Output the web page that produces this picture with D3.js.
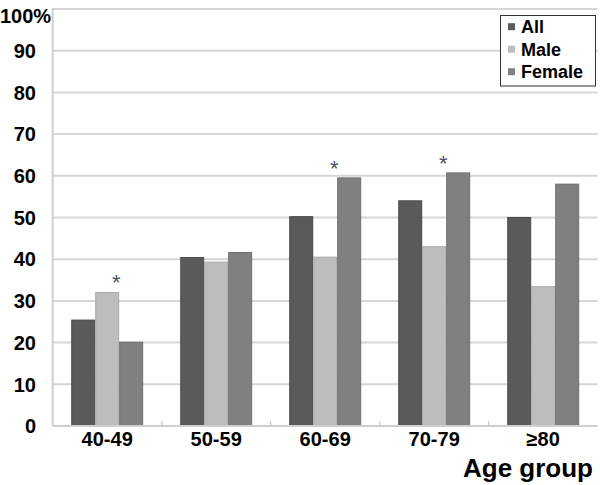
<!DOCTYPE html>
<html><head><meta charset="utf-8">
<script src="https://cdnjs.cloudflare.com/ajax/libs/d3/7.8.5/d3.min.js"></script>
<style>body{margin:0;background:#fff}svg{display:block;font-family:"Liberation Sans",Arial,sans-serif}</style>
</head><body><svg id="c" width="600" height="485"></svg>
<script>
const categories = ["40-49","50-59","60-69","70-79","\u226580"];
const seriesNames = ["All","Male","Female"];
const allValues = [25.4, 40.4, 50.2, 54.0, 50.0];
const maleValues = [32.0, 39.3, 40.5, 43.0, 33.4];
const femaleValues = [20.1, 41.6, 59.5, 60.7, 58.0];
const significant = [true, false, true, true, false];
const yTicks = [0,10,20,30,40,50,60,70,80,90,100];
const xTitle = "Age group";

const colors = {All:"#5a5a5a", Male:"#bdbdbd", Female:"#808080"};
const strokes = {All:"#4a4a4a", Male:"#a9a9a9", Female:"#6e6e6e"};
const values = {All:allValues, Male:maleValues, Female:femaleValues};

const svg = d3.select("#c");
const L = 52.7, R = 597.7, T = 9, B = 426;
const y = d3.scaleLinear().domain([0,100]).range([B,T]);
const x0 = d3.scaleBand().domain(categories).range([L,R]).paddingInner(0.34).paddingOuter(0.17);
const x1 = d3.scaleBand().domain(seriesNames).range([0, x0.bandwidth()]);

// gridlines
svg.append("g").selectAll("line").data(yTicks.filter(d=>d>0)).join("line")
  .attr("x1",L).attr("x2",R).attr("y1",d=>y(d)).attr("y2",d=>y(d))
  .attr("stroke","#d6d6d6").attr("stroke-width",2);

// left axis line
svg.append("line").attr("x1",L).attr("x2",L).attr("y1",T-1).attr("y2",B)
  .attr("stroke","#cfcfcf").attr("stroke-width",2);

// bars
const g = svg.append("g").selectAll("g").data(categories).join("g")
  .attr("transform",d=>`translate(${x0(d)},0)`);
g.selectAll("rect").data((c,i)=>seriesNames.map(s=>({s, v:values[s][i]}))).join("rect")
  .attr("x",d=>x1(d.s)+0.5).attr("width",x1.bandwidth()-1)
  .attr("y",d=>y(d.v)).attr("height",d=>B-y(d.v))
  .attr("fill",d=>colors[d.s]).attr("stroke",d=>strokes[d.s]).attr("stroke-width",1);

// baseline
svg.append("line").attr("x1",L).attr("x2",R).attr("y1",B).attr("y2",B)
  .attr("stroke","#cfcfcf").attr("stroke-width",2);
// category boundary ticks
const bounds = d3.range(1, categories.length).map(i=>L + i*x0.step());
svg.append("g").selectAll("line").data(bounds).join("line")
  .attr("x1",d=>d).attr("x2",d=>d).attr("y1",B-5).attr("y2",B)
  .attr("stroke","#cfcfcf").attr("stroke-width",1.5);

// significance asterisks
svg.append("g").selectAll("text").data(categories.filter((c,i)=>significant[i])).join("text")
  .attr("x",c=>x0(c)+x0.bandwidth()/2+9)
  .attr("y",c=>{const i=categories.indexOf(c);return y(Math.max(allValues[i],maleValues[i],femaleValues[i]))-18;})
  .attr("text-anchor","middle").attr("dy","0.72em")
  .attr("font-size",22).attr("fill","#4a5266").text("*");

// y labels
svg.append("g").selectAll("text").data(yTicks).join("text")
  .attr("x",d=>d===100?0:36).attr("y",d=>y(d)).attr("dy",d=>d===100?"0.7em":"0.36em")
  .attr("text-anchor",d=>d===100?"start":"end")
  .attr("font-size",20).attr("font-weight","bold").attr("fill","#000")
  .text(d=>d===100?"100%":d);

// x labels
svg.append("g").selectAll("text").data(categories).join("text")
  .attr("x",c=>x0(c)+x0.bandwidth()/2).attr("y",446)
  .attr("text-anchor","middle").attr("font-size",20).attr("font-weight","bold")
  .text(c=>c);

svg.append("text").attr("x",593).attr("y",477).attr("text-anchor","end")
  .attr("font-size",26).attr("font-weight","bold").text(xTitle);

// legend
const lg = svg.append("g");
lg.append("rect").attr("x",500.5).attr("y",15.5).attr("width",95).attr("height",70.5)
  .attr("fill","#fff").attr("stroke","#333").attr("stroke-width",1);
const li = lg.selectAll("g").data(seriesNames).join("g")
  .attr("transform",(d,i)=>`translate(0,${26.7+i*22.5})`);
li.append("rect").attr("x",508).attr("y",-3.5).attr("width",7).attr("height",7)
  .attr("fill",d=>colors[d]);
li.append("text").attr("x",521).attr("y",0).attr("dy","0.36em")
  .attr("font-size",18).attr("font-weight","bold").text(d=>d);
</script></body></html>
